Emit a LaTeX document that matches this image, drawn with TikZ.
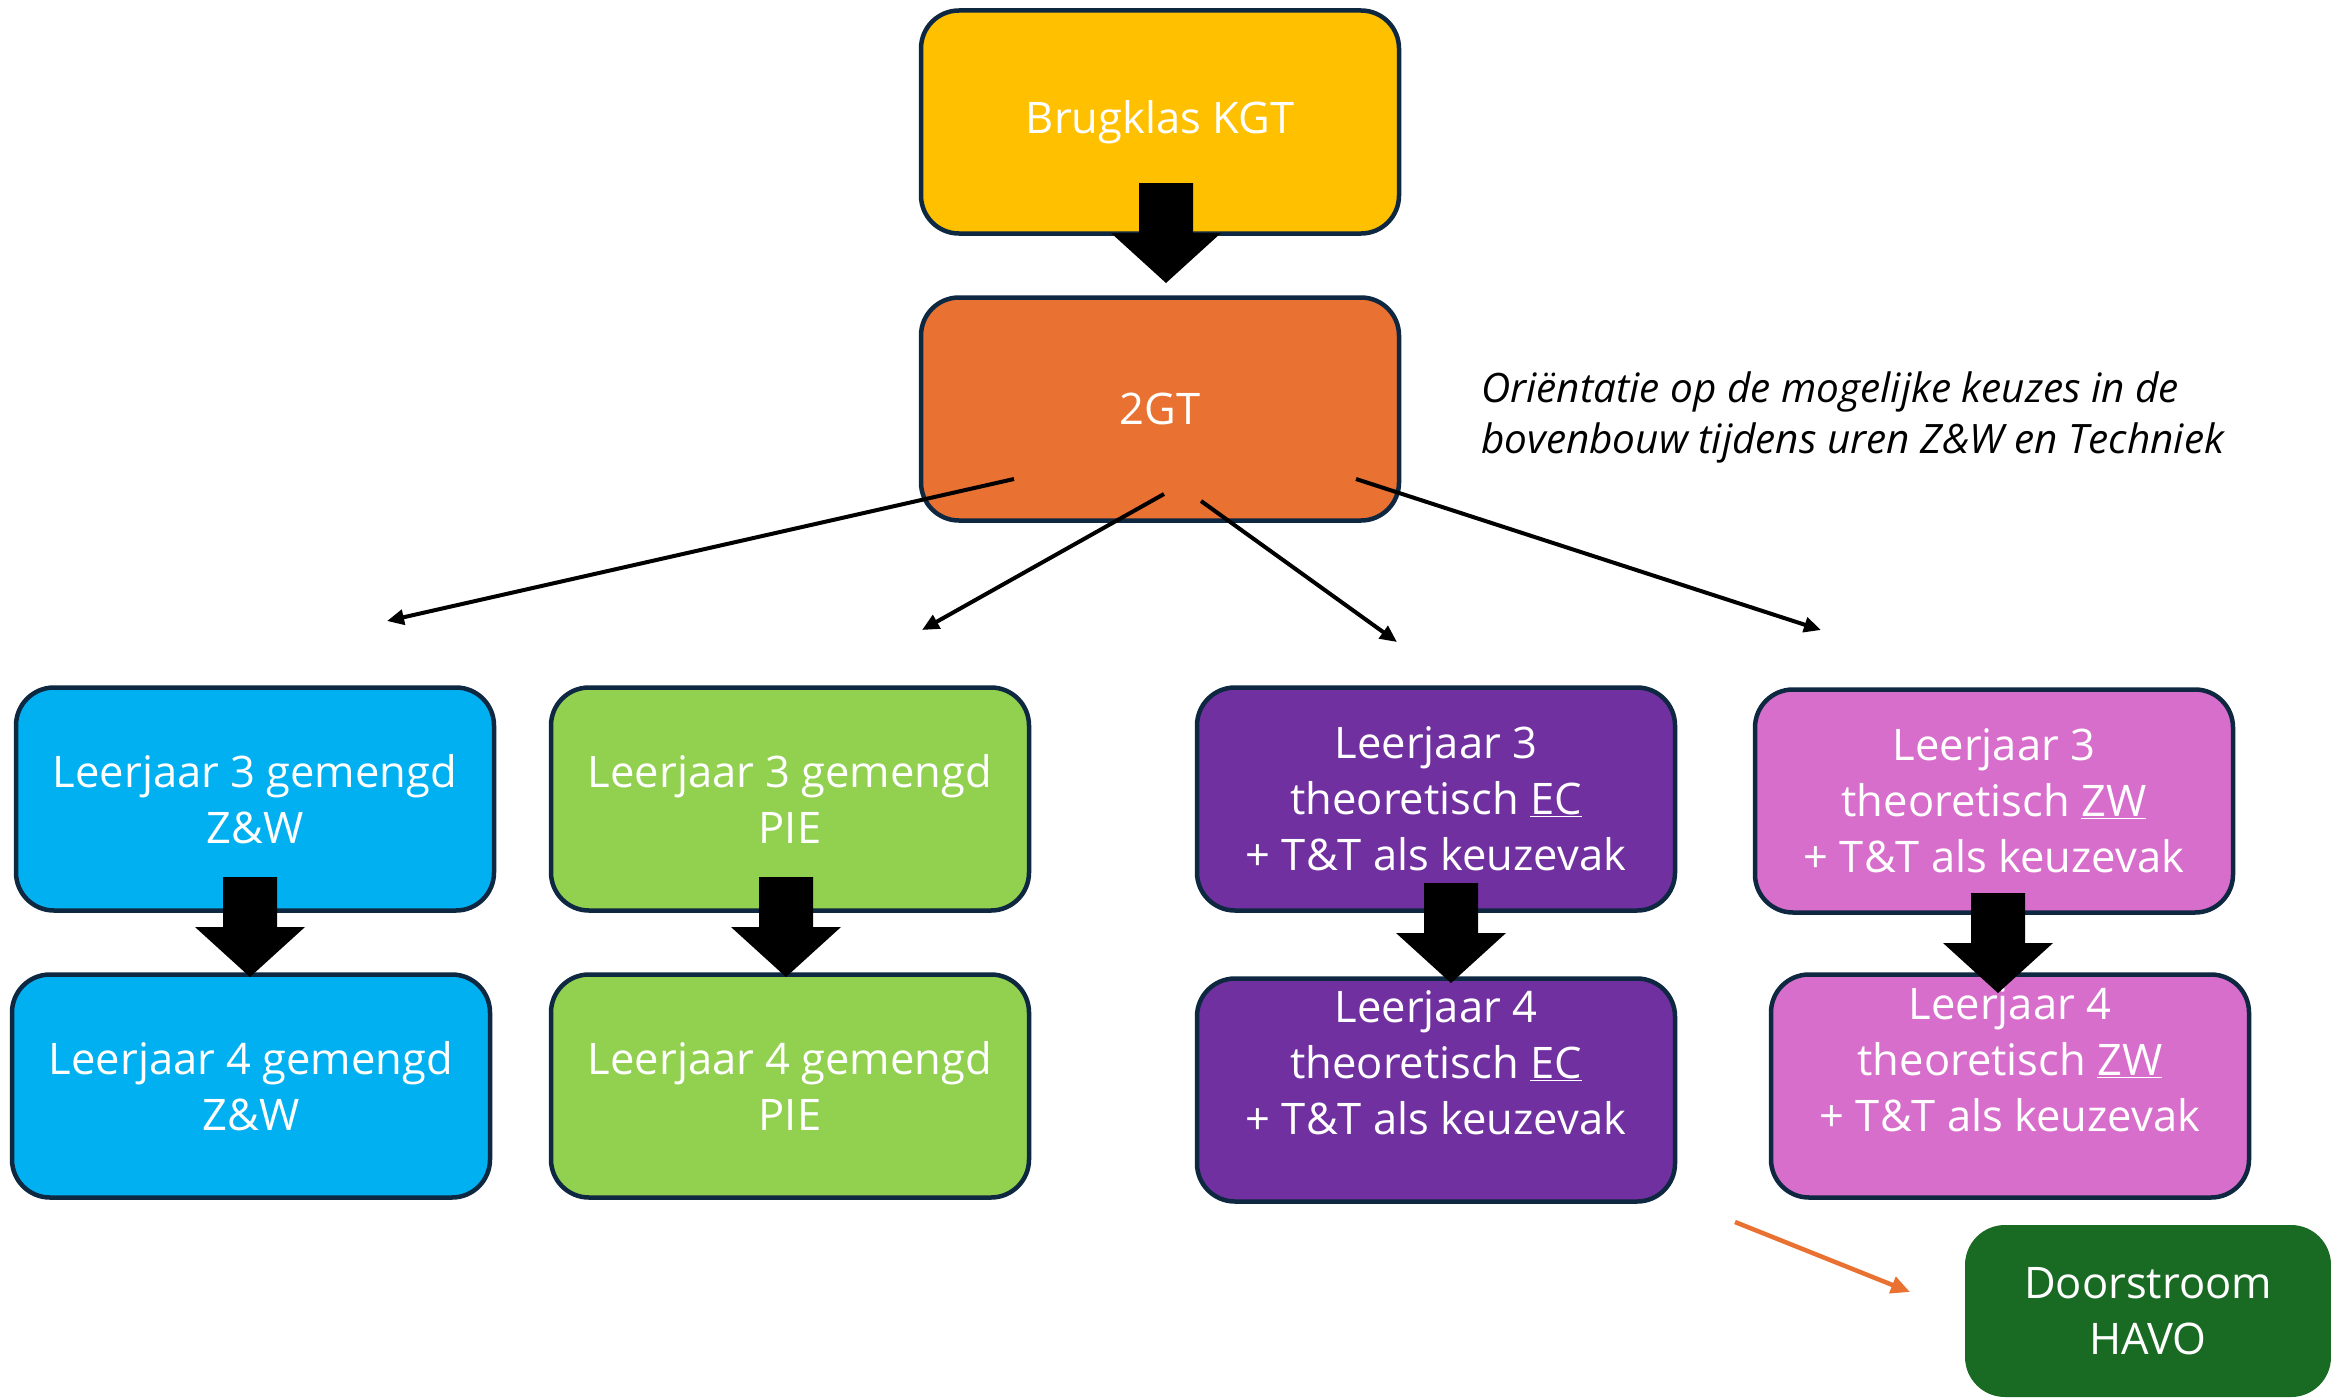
\documentclass[tikz,border=0pt]{standalone}
\usepackage{fontspec}
\setmainfont{Open Sans}
\usetikzlibrary{arrows.meta}
\definecolor{cYellow}{HTML}{FFC000}
\definecolor{cOrange}{HTML}{E97132}
\definecolor{cBlue}{HTML}{00B0F0}
\definecolor{cGreen}{HTML}{92D050}
\definecolor{cPurple}{HTML}{7030A0}
\definecolor{cPink}{HTML}{D86ECC}
\definecolor{cDark}{HTML}{196B24}
\definecolor{cBorder}{HTML}{0E2841}
\tikzset{
  boxtext/.style={text=white, align=center, font=\fontsize{43.5}{56}\selectfont},
  box/.style={boxtext, draw=cBorder, line width=4.5pt, rounded corners=38pt,
    minimum width=478pt, minimum height=223pt, inner sep=0pt},
  thin/.style={line width=4pt, -{Triangle[length=17pt,width=15pt]}},
  blockarrow/.pic={\fill[black] (-27,0) -- (27,0) -- (27,50) -- (55,50) -- (0,100) -- (-55,50) -- (-27,50) -- cycle;}
}
\begin{document}
\begin{tikzpicture}[x=1pt,y=-1pt]
\useasboundingbox (0,0) rectangle (2331,1397);
\clip (0,0) rectangle (2331,1397);
% top boxes
\node[box, fill=cYellow] (brug) at (1160,122) {Brugklas KGT};
\node[box, fill=cOrange] (gt) at (1160,409) {2GT};
\pic at (1166,183) {blockarrow};
% note
\node[anchor=west, align=left, inner sep=0pt, font=\fontsize{40.5}{51}\selectfont\itshape] (note) at (1481,417)
  {Oriëntatie op de mogelijke keuzes in de\\bovenbouw tijdens uren Z\&W en Techniek};
% row 3
\node[box, fill=cBlue] (b3) at (255,799) {Leerjaar 3 gemengd\\Z\&W};
\node[box, fill=cGreen] (g3) at (790,799) {Leerjaar 3 gemengd\\PIE};
\node[box, fill=cPurple] (p3) at (1436,799) {Leerjaar 3\\theoretisch \underline{EC}\\+ T\&T als keuzevak};
\node[box, fill=cPink] (k3) at (1994,801) {Leerjaar 3\\theoretisch \underline{ZW}\\+ T\&T als keuzevak};
% row 4
\node[box, fill=cBlue] (b4) at (251,1086) {Leerjaar 4 gemengd\\Z\&W};
\node[box, fill=cGreen] (g4) at (790,1086) {Leerjaar 4 gemengd\\PIE};
\node[box, fill=cPurple] (p4) at (1436,1090) {};
\node[boxtext] (p4t) at (1436,1063) {Leerjaar 4\\theoretisch \underline{EC}\\+ T\&T als keuzevak};
\node[box, fill=cPink] (k4) at (2010,1086) {};
\node[boxtext] (k4t) at (2010,1060) {Leerjaar 4\\theoretisch \underline{ZW}\\+ T\&T als keuzevak};
% havo
\node[box, draw=none, fill=cDark, minimum width=366pt, minimum height=172pt, rounded corners=40pt] (havo) at (2148,1311) {Doorstroom\\HAVO};
% block arrows
\pic at (250,877) {blockarrow};
\pic at (786,877) {blockarrow};
\pic at (1451,883) {blockarrow};
\pic at (1998,893) {blockarrow};
% thin arrows
\coordinate (s1) at (1014,479); \coordinate (e1) at (387,621);
\coordinate (s2) at (1164,494); \coordinate (e2) at (922,630);
\coordinate (s3) at (1201,501); \coordinate (e3) at (1397,642);
\coordinate (s4) at (1356,479); \coordinate (e4) at (1821,630);
\draw[thin] (s1) -- (e1);
\draw[thin] (s2) -- (e2);
\draw[thin] (s3) -- (e3);
\draw[thin] (s4) -- (e4);
% orange arrow
\coordinate (os) at (1735,1222); \coordinate (oe) at (1910,1292);
\draw[cOrange, line width=4.5pt, -{Triangle[length=19pt,width=17pt]}] (os) -- (oe);
\end{tikzpicture}
\end{document}
